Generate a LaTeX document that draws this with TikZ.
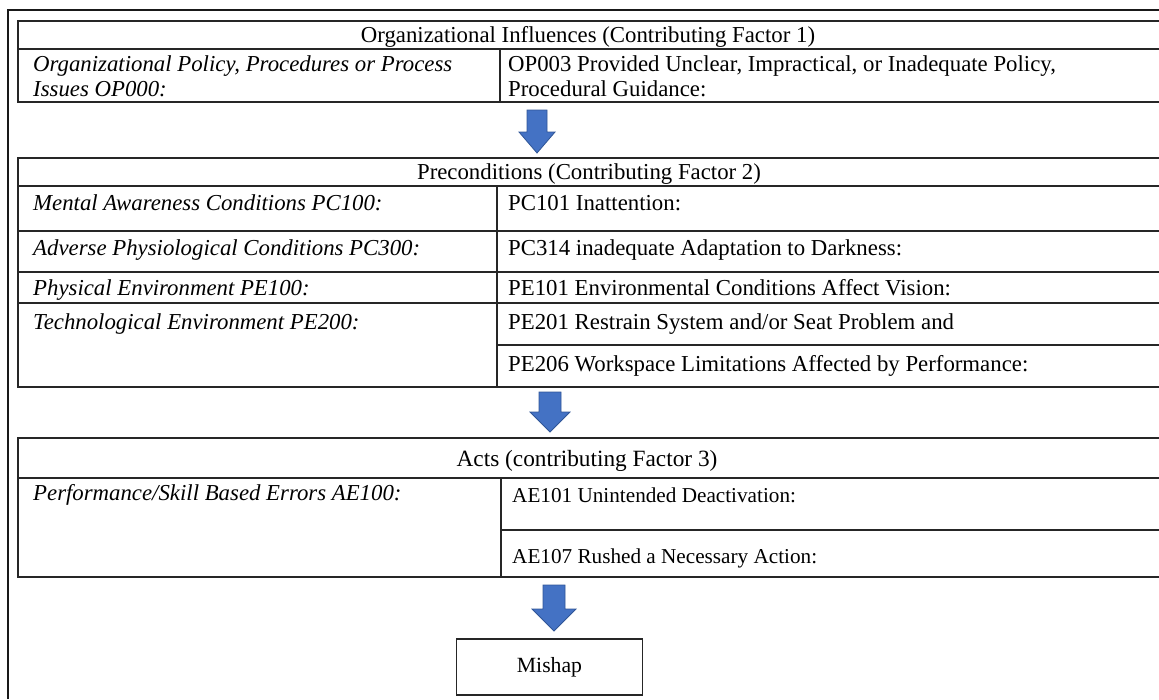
\documentclass[tikz,border=0pt]{standalone}
\usepackage{fontspec}
\setmainfont{Liberation Serif}
\definecolor{arrowblue}{HTML}{4472C4}
\definecolor{arrowedge}{HTML}{2F5597}
\begin{document}
\begin{tikzpicture}[x=1pt,y=-1pt,
  txt/.style={anchor=base west, inner sep=0pt, font=\fontsize{22.8}{26}\selectfont},
  itx/.style={anchor=base west, inner sep=0pt, font=\fontsize{22.8}{26}\selectfont\itshape},
  hdr/.style={anchor=base, inner sep=0pt, font=\fontsize{22.8}{26}\selectfont},
  rule/.style={draw=black!85, line width=1.3pt},
  frame/.style={draw=black!90, line width=1.8pt},
  blk/.style={fill=arrowblue, draw=arrowedge, line width=0.8pt, line join=miter}]
\useasboundingbox (0,0) rectangle (1159,699);

% outer frame (visible part)
\draw[frame] (8,699) -- (8,10) -- (1159,10);

% ---------- Table 1 ----------
\draw[rule] (1159,21) -- (18,21) -- (18,102) -- (1159,102);
\draw[rule] (18,49) -- (1159,49);
\draw[rule] (500,49) -- (500,102);
\node[hdr] (h1) at (588,42) {Organizational Influences (Contributing Factor 1)};
\node[itx] (op0a) at (33,71) {Organizational Policy, Procedures or Process};
\node[itx] (op0b) at (33,96) {Issues OP000:};
\node[txt] (op3a) at (508,71) {OP003 Provided Unclear, Impractical, or Inadequate Policy,};
\node[txt] (op3b) at (508,96) {Procedural Guidance:};

% ---------- Table 2 ----------
\draw[rule] (1159,158) -- (18,158) -- (18,387) -- (1159,387);
\draw[rule] (18,186) -- (1159,186);
\draw[rule] (18,231) -- (1159,231);
\draw[rule] (18,272) -- (1159,272);
\draw[rule] (18,303) -- (1159,303);
\draw[rule] (497,345) -- (1159,345);
\draw[rule] (497,186) -- (497,387);
\node[hdr] (h2) at (589,179) {Preconditions (Contributing Factor 2)};
\node[itx] (pc100) at (33,210) {Mental Awareness Conditions PC100:};
\node[txt] (pc101) at (508,210) {PC101 Inattention:};
\node[itx] (pc300) at (33,255) {Adverse Physiological Conditions PC300:};
\node[txt] (pc314) at (508,255) {PC314 inadequate Adaptation to Darkness:};
\node[itx] (pe100) at (33,295) {Physical Environment PE100:};
\node[txt] (pe101) at (508,295) {PE101 Environmental Conditions Affect Vision:};
\node[itx] (pe200) at (33,329) {Technological Environment PE200:};
\node[txt] (pe201) at (508,329) {PE201 Restrain System and/or Seat Problem and};
\node[txt] (pe206) at (508,371) {PE206 Workspace Limitations Affected by Performance:};

% ---------- Table 3 ----------
\draw[rule] (1159,438) -- (18,438) -- (18,577) -- (1159,577);
\draw[rule] (18,478) -- (1159,478);
\draw[rule] (501,530) -- (1159,530);
\draw[rule] (501,478) -- (501,577);
\node[hdr, font=\fontsize{23.3}{27}\selectfont] (h3) at (587,466) {Acts (contributing Factor 3)};
\node[itx] (ae100) at (33,500) {Performance/Skill Based Errors AE100:};
\node[txt, font=\fontsize{21.2}{25}\selectfont] (ae101) at (512,502) {AE101 Unintended Deactivation:};
\node[txt, font=\fontsize{21.2}{25}\selectfont] (ae107) at (512,563) {AE107 Rushed a Necessary Action:};

% ---------- Mishap ----------
\node[draw=black!85, line width=1.3pt, minimum width=186pt, minimum height=56pt,
      inner sep=0pt, font=\fontsize{21.7}{25}\selectfont] (mishap) at (549.5,667) {Mishap};

% ---------- block arrows ----------
\coordinate (a1) at (537,110);
\draw[blk] (a1) ++(-10,0) -- ++(20,0) -- ++(0,22) -- ++(8,0) -- ++(-18,21) -- ++(-18,-21) -- ++(8,0) -- cycle;
\coordinate (a2) at (550,392);
\draw[blk] (a2) ++(-11,0) -- ++(22,0) -- ++(0,20) -- ++(9,0) -- ++(-20,20) -- ++(-20,-20) -- ++(9,0) -- cycle;
\coordinate (a3) at (554,585);
\draw[blk] (a3) ++(-11,0) -- ++(22,0) -- ++(0,24) -- ++(11,0) -- ++(-22,22) -- ++(-22,-22) -- ++(11,0) -- cycle;
\end{tikzpicture}
\end{document}
